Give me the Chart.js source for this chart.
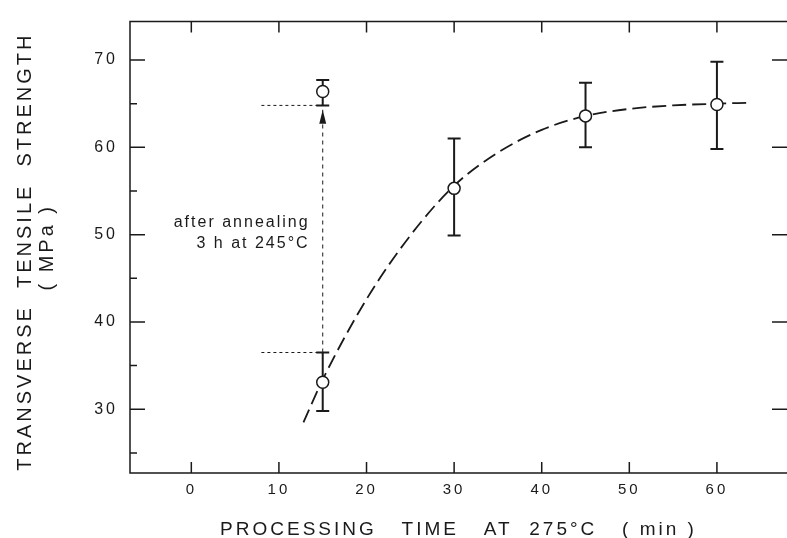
<!DOCTYPE html>
<html>
<head>
<style>
  body { margin: 0; background: #fff; }
  #wrap { width: 787px; height: 538px; }
</style>
</head>
<body>
<div id="wrap"><canvas id="chart"></canvas></div>
<script src="https://cdn.jsdelivr.net/npm/chart.js@4.4.0/dist/chart.umd.min.js"></script>
<script>
// processing time (min) vs transverse tensile strength (MPa)
const times = [15, 30, 45, 60];
const strength = [33.1, 55.3, 63.6, 64.9];
const errLow = [29.8, 49.9, 60.0, 59.8];
const errHigh = [36.5, 61.0, 67.4, 69.8];

// 15 min sample after annealing 3 h at 245 C
const annealTime = [15];
const annealStrength = [66.4];
const annealLow = [64.8];
const annealHigh = [67.7];

// dashed trend curve
const fitTime = [12.8, 15, 20, 25, 30, 35, 40, 45, 50, 55, 60, 63.5];
const fitStrength = [28.5, 33.4, 42.6, 49.9, 55.6, 59.4, 62.0, 63.6, 64.4, 64.8, 65.0, 65.1];

// dotted guides for the annealing jump
const guideTime = [8, 15];
const beforeLevel = 36.5;
const afterLevel = 64.8;
const arrowTip = 64.3;

const xTicks = [0, 10, 20, 30, 40, 50, 60];
const yTicks = [30, 40, 50, 60, 70];
const yMinor = [25, 35, 45, 55, 65];

const FONT = "'Liberation Sans', Arial, sans-serif";
const INK = "#1a1a1a";

function pts(xs, ys) {
    return xs.map((x, i) => ({x: x, y: ys[i]}));
}

const spacing = {
    id: "spacing",
    beforeDraw(chart) {
        chart.ctx.letterSpacing = "3px";
    }
};

const errorBars = {
    id: "errorBars",
    beforeDatasetsDraw(chart) {
        const ctx = chart.ctx;
        const x = chart.scales.x, y = chart.scales.y;
        const draw = (xs, lo, hi) => {
            xs.forEach((t, i) => {
                const px = x.getPixelForValue(t);
                const top = y.getPixelForValue(hi[i]);
                const bot = y.getPixelForValue(lo[i]);
                ctx.beginPath();
                ctx.moveTo(px, top);
                ctx.lineTo(px, bot);
                ctx.moveTo(px - 6.5, top);
                ctx.lineTo(px + 6.5, top);
                ctx.moveTo(px - 6.5, bot);
                ctx.lineTo(px + 6.5, bot);
                ctx.stroke();
            });
        };
        ctx.save();
        ctx.strokeStyle = INK;
        ctx.lineWidth = 2;
        draw(times, errLow, errHigh);
        draw(annealTime, annealLow, annealHigh);
        ctx.restore();
    }
};

const frame = {
    id: "frame",
    afterDraw(chart) {
        const ctx = chart.ctx;
        const a = chart.chartArea;
        const x = chart.scales.x, y = chart.scales.y;
        ctx.save();
        ctx.strokeStyle = INK;
        ctx.lineWidth = 1.5;
        ctx.beginPath();
        ctx.moveTo(a.right, a.top);
        ctx.lineTo(a.left, a.top);
        ctx.lineTo(a.left, a.bottom);
        ctx.lineTo(a.right, a.bottom);
        xTicks.forEach(v => {
            const px = x.getPixelForValue(v);
            ctx.moveTo(px, a.top);
            ctx.lineTo(px, a.top + 11);
            ctx.moveTo(px, a.bottom);
            ctx.lineTo(px, a.bottom - 11);
        });
        yTicks.forEach(v => {
            const py = y.getPixelForValue(v);
            ctx.moveTo(a.left, py);
            ctx.lineTo(a.left + 15, py);
            ctx.moveTo(a.right, py);
            ctx.lineTo(a.right - 15, py);
        });
        yMinor.forEach(v => {
            const py = y.getPixelForValue(v);
            ctx.moveTo(a.left, py);
            ctx.lineTo(a.left + 7, py);
        });
        ctx.stroke();

        // arrow head
        const ax = x.getPixelForValue(annealTime[0]);
        const ay = y.getPixelForValue(arrowTip);
        ctx.fillStyle = INK;
        ctx.beginPath();
        ctx.moveTo(ax, ay);
        ctx.lineTo(ax - 3.5, ay + 14);
        ctx.lineTo(ax + 3.5, ay + 14);
        ctx.closePath();
        ctx.fill();

        // annotation
        ctx.font = "16px " + FONT;
        ctx.letterSpacing = "2px";
        ctx.textAlign = "right";
        ctx.textBaseline = "middle";
        const tx = x.getPixelForValue(13.5);
        ctx.fillText("after annealing", tx, y.getPixelForValue(51.4));
        ctx.fillText("3 h at 245°C", tx, y.getPixelForValue(49.0));
        ctx.restore();
    }
};

new Chart(document.getElementById("chart"), {
    type: "scatter",
    data: {
        datasets: [
            {
                data: pts(times, strength),
                pointRadius: 6,
                pointBorderWidth: 1.5,
                pointBackgroundColor: "#fff",
                pointBorderColor: INK
            },
            {
                data: pts(annealTime, annealStrength),
                pointRadius: 6,
                pointBorderWidth: 1.5,
                pointBackgroundColor: "#fff",
                pointBorderColor: INK
            },
            {
                data: pts(fitTime, fitStrength),
                showLine: true,
                borderColor: INK,
                borderWidth: 1.8,
                borderDash: [14, 6],
                cubicInterpolationMode: "monotone",
                pointRadius: 0
            },
            {
                data: pts(guideTime, [beforeLevel, beforeLevel]),
                showLine: true,
                borderColor: INK,
                borderWidth: 1,
                borderDash: [3, 3],
                pointRadius: 0
            },
            {
                data: pts(guideTime, [afterLevel, afterLevel]),
                showLine: true,
                borderColor: INK,
                borderWidth: 1,
                borderDash: [3, 3],
                pointRadius: 0
            },
            {
                data: pts([annealTime[0], annealTime[0]], [beforeLevel, arrowTip]),
                showLine: true,
                borderColor: INK,
                borderWidth: 1,
                borderDash: [4, 4],
                pointRadius: 0
            }
        ]
    },
    options: {
        responsive: true,
        maintainAspectRatio: false,
        animation: false,
        events: [],
        layout: {autoPadding: false, padding: {left: 0, top: 16, right: 0, bottom: 0}},
        plugins: {legend: {display: false}, tooltip: {enabled: false}},
        scales: {
            x: {
                type: "linear",
                min: -7,
                max: 68,
                grid: {display: false, drawTicks: false},
                border: {display: false},
                afterBuildTicks: s => { s.ticks = xTicks.map(v => ({value: v})); },
                afterFit: s => { s.height = 65; },
                ticks: {color: INK, font: {family: FONT, size: 15}, padding: 8},
                title: {
                    display: true,
                    text: "PROCESSING   TIME   AT  275°C   ( min )",
                    color: INK,
                    font: {family: FONT, size: 19, lineHeight: 0.9},
                    padding: 0
                }
            },
            y: {
                min: 22.7,
                max: 74.4,
                grid: {display: false, drawTicks: false},
                border: {display: false},
                afterBuildTicks: s => { s.ticks = yTicks.map(v => ({value: v})); },
                afterFit: s => { s.width = 130; },
                ticks: {color: INK, font: {family: FONT, size: 16}, padding: 12},
                title: {
                    display: true,
                    text: ["TRANSVERSE  TENSILE  STRENGTH ", "( MPa )"],
                    color: INK,
                    font: {family: FONT, size: 20, lineHeight: 1.1},
                    padding: {top: 14, bottom: 0}
                }
            }
        }
    },
    plugins: [spacing, errorBars, frame]
});
</script>
</body>
</html>
